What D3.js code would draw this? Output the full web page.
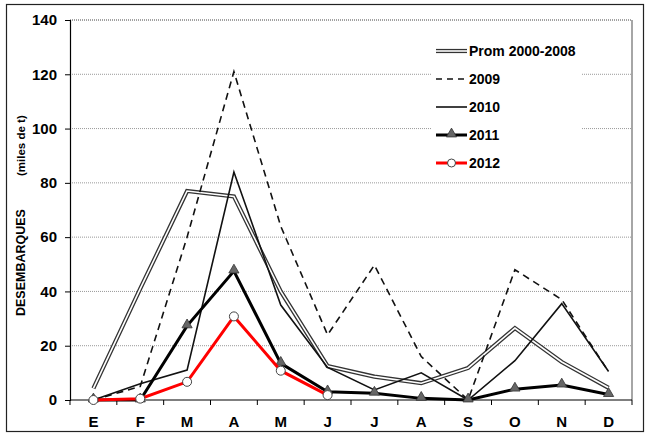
<!DOCTYPE html>
<html>
<head>
<meta charset="utf-8">
<script src="https://cdn.jsdelivr.net/npm/d3@7"></script>
<style>
  body { margin: 0; background: #fff; }
  text { font-family: Arial, "Liberation Sans", sans-serif; font-weight: bold; }
</style>
</head>
<body>
<div id="chart"></div>
<script>
var months = ["E", "F", "M", "A", "M", "J", "J", "A", "S", "O", "N", "D"];
var prom = [4.3, 41, 77, 75, 40, 12.5, 8.6, 6.2, 11.8, 26.5, 14, 4.5];
var y2009 = [0, 5, 60, 121, 64, 24, 49.7, 16, 0, 48, 37, 10.4];
var y2010 = [0, 6, 11, 84, 35, 12, 3.7, 10, 0, 14.5, 35.5, 10.5];
var y2011 = [0, 0, 27.3, 47.5, 13.5, 3, 2.5, 0.6, 0, 4, 5.5, 2];
var y2012 = [0, 0.5, 6.7, 30.8, 10.8, 1.8];
var yTicks = [0, 20, 40, 60, 80, 100, 120, 140];

var svgWidth = 652, svgHeight = 435;
var margin = { top: 20, right: 20, bottom: 35, left: 70 };
var width = 632 - margin.left;
var height = 400 - margin.top;

var svg = d3.select("#chart").append("svg")
  .attr("width", svgWidth)
  .attr("height", svgHeight);

// outer frame
svg.append("rect")
  .attr("x", 6.5).attr("y", 4.5)
  .attr("width", 637).attr("height", 427)
  .attr("fill", "none").attr("stroke", "#222").attr("stroke-width", 1.2);

var chartGroup = svg.append("g")
  .attr("transform", `translate(${margin.left}, ${margin.top})`);

var xScale = d3.scaleBand()
  .domain(d3.range(months.length))
  .range([0, width]);

var yScale = d3.scaleLinear()
  .domain([0, 140])
  .range([height, 0]);

var xc = i => xScale(i) + xScale.bandwidth() / 2;

// gridlines
chartGroup.append("g")
  .selectAll("line")
  .data(yTicks.filter(d => d > 0))
  .enter()
  .append("line")
  .attr("x1", 0).attr("x2", width)
  .attr("y1", d => yScale(d)).attr("y2", d => yScale(d))
  .attr("stroke", d => d === 140 ? "#444" : "#999")
  .attr("stroke-width", 1)
  .attr("stroke-dasharray", "1,1");

// right border of plot area
chartGroup.append("line")
  .attr("x1", width).attr("x2", width)
  .attr("y1", 0).attr("y2", height)
  .attr("stroke", "#888").attr("stroke-width", 1.5);

// legend background hides gridlines
chartGroup.append("rect")
  .attr("x", 431 - margin.left).attr("y", 32 - margin.top)
  .attr("width", 150).attr("height", 142)
  .attr("fill", "#fff");

// axes
var yAxis = d3.axisLeft(yScale).tickValues(yTicks).tickSize(5).tickPadding(8);
var gy = chartGroup.append("g").call(yAxis);
gy.select(".domain").attr("stroke", "#000").attr("stroke-width", 1.2);
gy.selectAll("text").style("font-size", "15px").attr("fill", "#000");

var xTickPos = d3.range(months.length + 1).map(i => i * xScale.step());
var gx = chartGroup.append("g").attr("transform", `translate(0, ${height})`);
gx.append("line").attr("x1", 0).attr("x2", width).attr("stroke", "#000").attr("stroke-width", 1.2);
gx.selectAll(".tk").data(xTickPos).enter().append("line")
  .attr("x1", d => d).attr("x2", d => d).attr("y1", 0).attr("y2", 5)
  .attr("stroke", "#000");
gx.selectAll(".lbl").data(months).enter().append("text")
  .attr("x", (d, i) => xc(i)).attr("y", 27)
  .attr("text-anchor", "middle")
  .style("font-size", "15px")
  .text(d => d);

// axis title
svg.append("text")
  .attr("transform", "translate(25, 316) rotate(-90)")
  .style("font-size", "12.5px")
  .text("DESEMBARQUES");
svg.append("text")
  .attr("transform", "translate(25, 176) rotate(-90)")
  .style("font-size", "11.5px")
  .text("(miles de t)");

var line = d3.line().x((d, i) => xc(i)).y(d => yScale(d));

// Prom 2000-2008 (double line)
chartGroup.append("path").datum(prom).attr("d", line)
  .attr("fill", "none").attr("stroke", "#333").attr("stroke-width", 4.2);
chartGroup.append("path").datum(prom).attr("d", line)
  .attr("fill", "none").attr("stroke", "#fff").attr("stroke-width", 1.6);

// 2009 dashed
chartGroup.append("path").datum(y2009).attr("d", line)
  .attr("fill", "none").attr("stroke", "#111").attr("stroke-width", 1.6)
  .attr("stroke-dasharray", "7,5");

// 2010
chartGroup.append("path").datum(y2010).attr("d", line)
  .attr("fill", "none").attr("stroke", "#111").attr("stroke-width", 1.6);

// 2011
chartGroup.append("path").datum(y2011).attr("d", line)
  .attr("fill", "none").attr("stroke", "#000").attr("stroke-width", 3);
var tri = d3.symbol().type(d3.symbolTriangle).size(45);
chartGroup.selectAll(".tri").data(y2011).enter().append("path")
  .attr("transform", (d, i) => `translate(${xc(i)}, ${yScale(d) - 1})`)
  .attr("d", tri)
  .attr("fill", "#666").attr("stroke", "#333").attr("stroke-width", 0.8);

// 2012
chartGroup.append("path").datum(y2012).attr("d", line)
  .attr("fill", "none").attr("stroke", "#f00").attr("stroke-width", 3);
chartGroup.selectAll(".circ").data(y2012).enter().append("circle")
  .attr("cx", (d, i) => xc(i)).attr("cy", d => yScale(d))
  .attr("r", 4.5)
  .attr("fill", "#fff").attr("stroke", "#444").attr("stroke-width", 1);

// legend
var legendNames = ["Prom 2000-2008", "2009", "2010", "2011", "2012"];
var lg = svg.append("g");
var lx1 = 436, lx2 = 467;
legendNames.forEach(function(name, i) {
  var ly = 51 + i * 28;
  if (i === 0) {
    lg.append("line").attr("x1", lx1).attr("x2", lx2).attr("y1", ly).attr("y2", ly)
      .attr("stroke", "#333").attr("stroke-width", 4.2);
    lg.append("line").attr("x1", lx1).attr("x2", lx2).attr("y1", ly).attr("y2", ly)
      .attr("stroke", "#fff").attr("stroke-width", 1.6);
  } else if (i === 1) {
    lg.append("line").attr("x1", lx1).attr("x2", lx2).attr("y1", ly).attr("y2", ly)
      .attr("stroke", "#111").attr("stroke-width", 1.6).attr("stroke-dasharray", "6,5");
  } else if (i === 2) {
    lg.append("line").attr("x1", lx1).attr("x2", lx2).attr("y1", ly).attr("y2", ly)
      .attr("stroke", "#111").attr("stroke-width", 1.6);
  } else if (i === 3) {
    lg.append("line").attr("x1", lx1).attr("x2", lx2).attr("y1", ly).attr("y2", ly)
      .attr("stroke", "#000").attr("stroke-width", 3);
    lg.append("path").attr("transform", `translate(${(lx1 + lx2) / 2}, ${ly - 1})`)
      .attr("d", tri).attr("fill", "#666").attr("stroke", "#333").attr("stroke-width", 0.8);
  } else {
    lg.append("line").attr("x1", lx1).attr("x2", lx2).attr("y1", ly).attr("y2", ly)
      .attr("stroke", "#f00").attr("stroke-width", 3);
    lg.append("circle").attr("cx", (lx1 + lx2) / 2).attr("cy", ly).attr("r", 4)
      .attr("fill", "#fff").attr("stroke", "#444");
  }
  lg.append("text").attr("x", lx2 + 2).attr("y", ly + 5)
    .style("font-size", "14px")
    .text(name);
});
</script>
</body>
</html>
